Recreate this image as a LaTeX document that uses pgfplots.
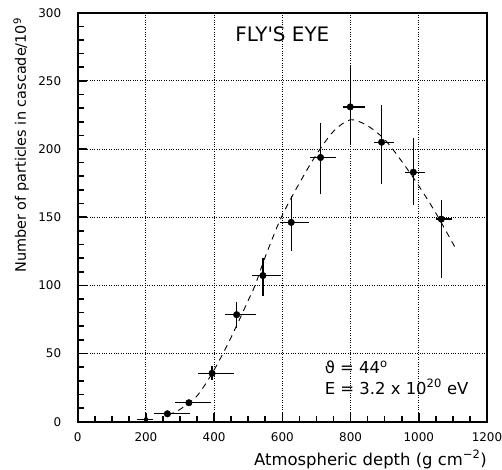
\documentclass[border=0pt]{standalone}
\usepackage{fontspec}
\setmainfont{DejaVu Sans}
\usepackage{pgfplots}
\pgfplotsset{compat=1.18}
\usepackage{pgfplotstable}

\pgfplotstableread{
x y xm xp ym yp
263 5.8 39 66 0 0
326 13.9 41 66 2 2
394 35.5 41 63 5 5
466 78.5 35 58 9.5 9.5
543 107.2 31 52 15 13
626 146.2 32 51 21 19
712 193.8 30 44 27 25
799 230.9 22 42 27 30
891 205 21 35 31 27
984 183 23 33 24 25
1066 148.6 15 31 43 14
}\data

\pgfplotstableread{
x y xm xp
200 1.7 25 22
}\first

\begin{document}
\begin{tikzpicture}
\begin{axis}[
  scale only axis, width=409.3bp, height=409bp,
  xmin=0, xmax=1200, ymin=0, ymax=300,
  xtick={0,200,...,1200}, ytick={0,50,...,300},
  minor xtick={50,100,...,1150}, minor ytick={10,20,...,290},
  xtick pos=bottom, ytick pos=left,
  xtick align=inside, ytick align=inside,
  major tick length=9bp, minor tick length=6bp,
  every major tick/.append style={black, line width=1.6bp, major tick length=9bp},
  every minor tick/.append style={black, line width=1.6bp, minor tick length=6bp},
  xmajorgrids, ymajorgrids, major grid style={dotted, black, line width=0.9bp},
  axis line style={line width=1.7bp},
  tick label style={font=\fontsize{12}{13}\selectfont},
  xticklabel style={yshift=-7bp},
  yticklabel style={xshift=-13bp},
  /pgf/number format/assume math mode=true,
  /pgf/number format/1000 sep={},
  scaled ticks=false,
  clip=false,
]
\addplot[black, dash pattern=on 6bp off 5bp, line width=0.9bp, smooth] coordinates {
(265,5) (300,9) (350,19) (400,38) (450,62) (500,89) (520,100) (550,121)
(597,150) (650,175) (700,196) (750,213) (800,221.5) (850,217) (900,207)
(950,191) (1000,173) (1050,153) (1106,128)
};
\addplot[only marks, mark=*, mark size=3.3bp, black,
  error bars/.cd, x dir=both, x explicit, y dir=both, y explicit,
  error mark=none, error bar style={line width=1.3bp, black}]
  table[x=x, y=y, x error plus=xp, x error minus=xm, y error plus=yp, y error minus=ym] {\data};
\addplot[only marks, mark=none, black,
  error bars/.cd, x dir=both, x explicit,
  error mark=none, error bar style={line width=1.3bp, black}]
  table[x=x, y=y, x error plus=xp, x error minus=xm] {\first};
\node[anchor=base, font=\fontsize{20}{22}\selectfont] at (axis cs:600,278.6) {FLY\textquotesingle S EYE};
\node[anchor=base west, font=\fontsize{16.5}{18}\selectfont, inner sep=0pt] at (axis cs:724,35.5) {ϑ = 44\textsuperscript{o}};
\node[anchor=base west, font=\fontsize{16.5}{18}\selectfont, inner sep=0pt] at (axis cs:724,20.3) {E = 3.2 x 10\textsuperscript{20} eV};
\path (rel axis cs:1,0) ++(0bp,-43.3bp) node[anchor=base east, inner sep=0pt, font=\fontsize{16.5}{18}\selectfont] {Atmospheric depth (g cm\textsuperscript{−2})};
\path (rel axis cs:0,1) ++(-51.7bp,-5bp) node[rotate=90, anchor=base east, inner sep=0pt, font=\fontsize{14.5}{16}\selectfont] {Number of particles in cascade/10\textsuperscript{9}};
\end{axis}
\pgfresetboundingbox
\path (-77.7bp,-48.3bp) rectangle (424.3bp,421.7bp);
\end{tikzpicture}
\end{document}
